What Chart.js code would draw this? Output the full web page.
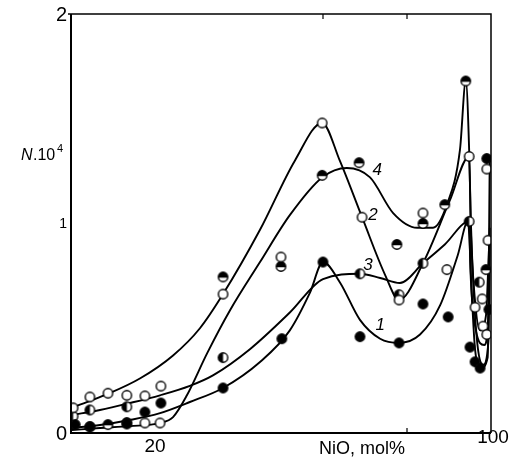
<!DOCTYPE html>
<html>
<head>
<meta charset="utf-8">
<script src="https://cdn.jsdelivr.net/npm/chart.js@4"></script>
<style>
  body { margin: 0; background: #fff; }
  canvas { display: block; }
</style>
</head>
<body>
<canvas id="nio" width="511" height="459"></canvas>
<script>
// curves drawn through the points (NiO mol%, N.10^4)
const curve1 = [[0.2,0.024],[6.9,0.038],[14,0.062],[21.2,0.095],[28.3,0.148],[36.2,0.215],[45,0.339],[52.1,0.49],[56.9,0.67],[60,0.816],[64,0.72],[68.8,0.54],[73.6,0.45],[78.1,0.43],[83.1,0.47],[87.9,0.61],[92.1,0.85],[94.5,1.01],[95.5,0.63],[96.2,0.4],[97.6,0.31],[99.2,0.36],[99.7,1.3]];
const curve2 = [[0.2,0.12],[8.6,0.185],[16.4,0.26],[24.3,0.37],[30.7,0.5],[36.2,0.663],[45,0.97],[53.3,1.3],[59.8,1.48],[64,1.3],[69.3,1.03],[74.8,0.754],[78.1,0.635],[83.8,0.81],[90.2,1.11],[94.8,1.32],[95.2,0.97],[96.2,0.63],[97.4,0.49],[98.8,0.56],[99.5,0.87]];
const curve3 = [[0.2,0.086],[6.9,0.11],[14,0.143],[21.2,0.18],[28.3,0.225],[33.8,0.275],[42.6,0.4],[52.1,0.575],[60,0.735],[68.8,0.76],[73.6,0.74],[78.3,0.716],[83.8,0.81],[89,0.9],[94.8,1.01],[95.1,0.78],[96.4,0.49],[98.4,0.42],[99.5,0.63],[99.7,0.98]];
const curve4 = [[0.2,0.014],[6.9,0.024],[14,0.033],[21.2,0.048],[24.3,0.076],[27.6,0.18],[32.4,0.38],[37.9,0.587],[45,0.816],[52.1,1.04],[59.8,1.22],[65.7,1.265],[71.2,1.22],[76.7,1.05],[82.4,0.98],[86.2,0.98],[89.5,1.09],[92.6,1.35],[94,1.68],[94.8,1.35],[95.2,1.01],[96,0.63],[96.9,0.4],[98.1,0.325],[99.4,0.44],[99.7,0.92]];

// measured points
const filledPts = [[4.5,0.03],[13.3,0.043],[17.6,0.1],[21.4,0.143],[36.2,0.215],[50.2,0.45],[60,0.816],[68.8,0.46],[78.1,0.43],[83.8,0.616],[89.8,0.554],[95,0.41],[96.2,0.34],[97.4,0.31],[99,1.31],[99.5,0.59],[1,0.04]];
const openPts = [[0.5,0.12],[4.5,0.172],[8.8,0.19],[13.3,0.18],[17.6,0.177],[21.4,0.224],[36.2,0.663],[50,0.84],[59.8,1.48],[69.3,1.03],[78.1,0.635],[83.8,1.05],[89.5,0.78],[94.8,1.32],[99,1.26],[96.2,0.6],[97.9,0.64],[98.1,0.51],[99,0.47],[17.6,0.048],[21.2,0.048],[99.3,0.92]];
const halfTopPts = [[94,1.68],[68.6,1.29],[59.8,1.23],[36.2,0.745],[50,0.795],[83.8,1.0],[89,1.09],[77.6,0.9],[4.5,0.03],[8.8,0.04],[13.3,0.05],[98.8,0.78]];
const halfLeftPts = [[36.2,0.36],[68.8,0.76],[78.1,0.66],[83.8,0.81],[94.8,1.01],[4.5,0.11],[13.3,0.125],[0.5,0.08],[97.2,0.72]];

const curveLabels = [['1',73.6,0.516],['2',71.9,1.04],['3',70.7,0.8],['4',72.9,1.255]];
const yTickLabels = [[0,'0',20],[1,'1',14],[2,'2',20]];
const xTickLabels = [[20,'20'],[100,'100']];
const topTicks = [60, 80];
const bottomTicks = [80];

function marker(kind) {
  const c = document.createElement('canvas');
  c.width = 13; c.height = 13;
  const g = c.getContext('2d');
  const r = 4.7;
  g.beginPath(); g.arc(6.5, 6.5, r, 0, Math.PI * 2); g.fillStyle = '#fff'; g.fill();
  g.fillStyle = '#000';
  if (kind === 'filled') {
    g.beginPath(); g.arc(6.5, 6.5, r, 0, Math.PI * 2); g.fill();
  } else if (kind === 'top') {
    g.beginPath(); g.arc(6.5, 6.5, r, Math.PI * 0.95, Math.PI * 2.05); g.closePath(); g.fill();
  } else if (kind === 'left') {
    g.beginPath(); g.arc(6.5, 6.5, r, Math.PI / 2, Math.PI * 1.5); g.closePath(); g.fill();
  }
  g.beginPath(); g.arc(6.5, 6.5, r, 0, Math.PI * 2);
  g.lineWidth = 1.4; g.strokeStyle = '#000'; g.stroke();
  return c;
}

const toXY = arr => arr.map(p => ({ x: p[0], y: p[1] }));

function curveSet(arr) {
  return { data: toXY(arr), showLine: true, borderColor: '#000', borderWidth: 1.9,
           cubicInterpolationMode: 'monotone', pointRadius: 0, fill: false, order: 2 };
}
function pointSet(arr, kind) {
  return { data: toXY(arr), showLine: false, pointStyle: marker(kind), pointRadius: 5, order: 1 };
}

const frame = {
  id: 'frame',
  afterDraw(chart) {
    const { ctx, chartArea: a, scales: { x, y } } = chart;
    ctx.save();
    ctx.strokeStyle = '#000';
    ctx.lineWidth = 2;
    ctx.beginPath();
    ctx.moveTo(a.left, a.top); ctx.lineTo(a.left, a.bottom); ctx.lineTo(a.right, a.bottom);
    ctx.stroke();
    ctx.lineWidth = 1.5;
    ctx.beginPath();
    ctx.moveTo(a.left - 3, a.top); ctx.lineTo(a.right, a.top); ctx.lineTo(a.right, a.bottom);
    ctx.stroke();
    ctx.lineWidth = 1.2;
    topTicks.forEach(v => { const px = x.getPixelForValue(v); ctx.beginPath(); ctx.moveTo(px, a.top); ctx.lineTo(px, a.top + 5); ctx.stroke(); });
    bottomTicks.forEach(v => { const px = x.getPixelForValue(v); ctx.beginPath(); ctx.moveTo(px, a.bottom); ctx.lineTo(px, a.bottom - 5); ctx.stroke(); });

    ctx.fillStyle = '#000';
    ctx.textBaseline = 'middle';
    ctx.textAlign = 'right';
    yTickLabels.forEach(([v, t, s]) => {
      ctx.font = s + 'px "Liberation Sans"';
      ctx.fillText(t, a.left - 4, y.getPixelForValue(v) + 1);
    });
    ctx.textAlign = 'center';
    ctx.font = '19px "Liberation Sans"';
    xTickLabels.forEach(([v, t]) => {
      const dy = v === 100 ? 5 : 14;
      ctx.fillText(t, x.getPixelForValue(v) + (v === 100 ? 2 : 0), a.bottom + dy);
    });
    ctx.font = '18px "Liberation Sans"';
    ctx.fillText('NiO, mol%', 362, a.bottom + 16);

    ctx.textAlign = 'left';
    ctx.font = 'italic 16px "Liberation Sans"';
    ctx.fillText('N', 21, 156);
    ctx.font = '16px "Liberation Sans"';
    ctx.fillText('.10', 33, 156);
    ctx.font = '11px "Liberation Sans"';
    ctx.fillText('4', 57, 149);

    ctx.font = 'italic 17px "Liberation Sans"';
    ctx.textAlign = 'center';
    curveLabels.forEach(([t, vx, vy]) => ctx.fillText(t, x.getPixelForValue(vx), y.getPixelForValue(vy)));
    ctx.restore();
  }
};

new Chart(document.getElementById('nio').getContext('2d'), {
  type: 'scatter',
  data: {
    datasets: [
      curveSet(curve1), curveSet(curve2), curveSet(curve3), curveSet(curve4),
      pointSet(filledPts, 'filled'), pointSet(openPts, 'open'),
      pointSet(halfTopPts, 'top'), pointSet(halfLeftPts, 'left')
    ]
  },
  options: {
    responsive: false,
    animation: false,
    devicePixelRatio: 1,
    layout: { padding: { left: 71, right: 20, top: 14, bottom: 26 } },
    scales: {
      x: { type: 'linear', min: 0, max: 100, display: false },
      y: { type: 'linear', min: 0, max: 2, display: false }
    },
    plugins: { legend: { display: false }, tooltip: { enabled: false } }
  },
  plugins: [frame]
});
</script>
</body>
</html>
